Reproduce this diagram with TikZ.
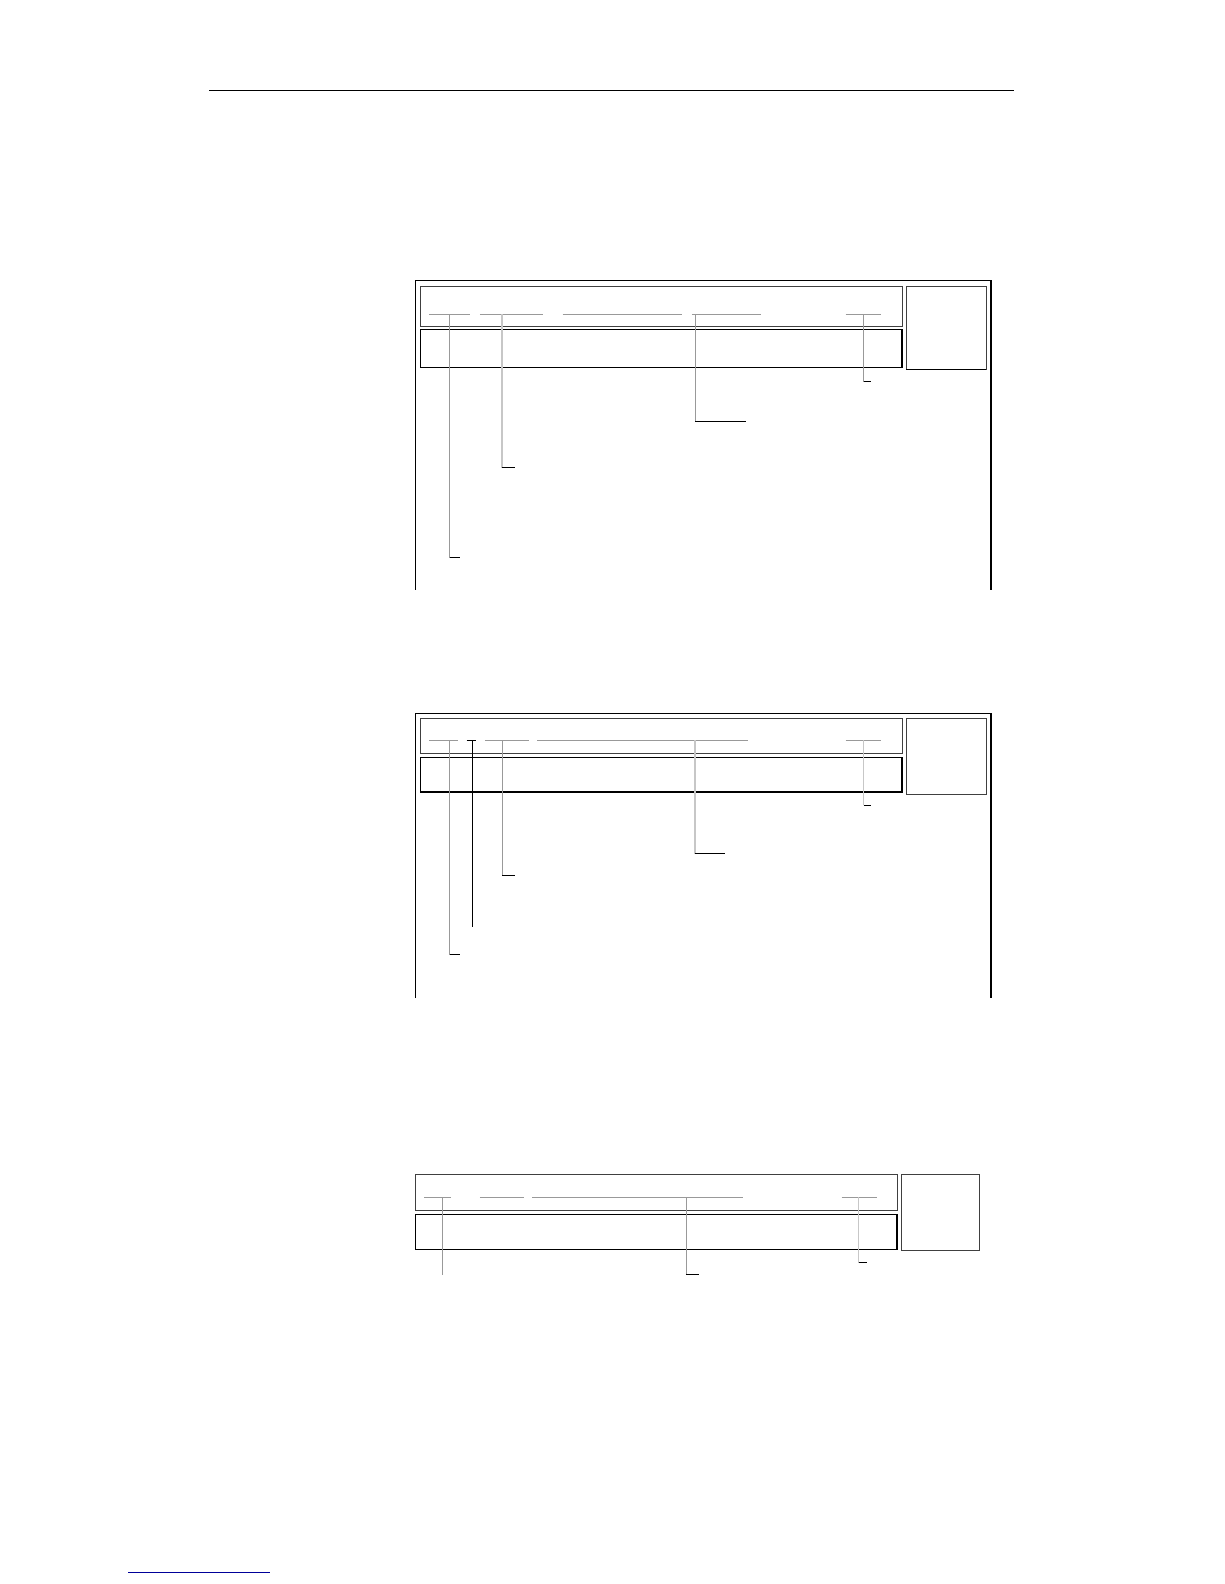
\documentclass[tikz,border=0pt]{standalone}
\begin{document}
\begin{tikzpicture}[x=1.0099pt,y=-1.0099pt,
  frame/.style={black,line width=1.1pt},
  boxa/.style={draw=black!75,line width=0.9pt},
  boxb/.style={draw=black,line width=1.3pt},
  lead/.style={black!40,line width=0.8pt},
  leadl/.style={black!22,line width=1.2pt},
  leadd/.style={black,line width=0.9pt},
  tick/.style={black,line width=1pt}]
\useasboundingbox[fill=white] (0,0) rectangle (1212,1568);
% header rule
\draw[black,line width=1pt] (207,90) -- (1004,90);
% footer rule
\draw[blue!60!black,line width=1pt] (127,1557) -- (267,1557);

% ---------- panel 1 ----------
\draw[frame] (411,584) -- (411,278) -- (981,278) -- (981,584);
\draw[boxa] (416,284) rectangle (893,323);
\draw[boxb] (416,326) rectangle (893,364);
\draw[boxa] (897,284) rectangle (976,366);
\draw[boxb] (897,366) -- (976,366);
\foreach \a/\b in {425/465,475/538,557/675,685/753,837/872}
  \draw[lead] (\a,311) -- (\b,311);
\coordinate (p1a) at (445,552); \draw[lead] (445,311) -- (p1a); \draw[tick] (p1a) -- ++(10,0);
\coordinate (p1b) at (497,463); \draw[leadl] (497,311) -- (p1b); \draw[tick] (p1b) -- ++(13,0);
\coordinate (p1c) at (688,417); \draw[lead] (688,311) -- (p1c); \draw[tick] (p1c) -- ++(50,0);
\coordinate (p1d) at (855,378); \draw[lead] (855,311) -- (p1d); \draw[tick] (p1d) -- ++(7,0);

% ---------- panel 2 ----------
\draw[frame] (411,988) -- (411,706) -- (981,706) -- (981,988);
\draw[boxa] (416,711) rectangle (893,746);
\draw[boxb] (416,750) rectangle (893,784);
\draw[boxa] (897,711) rectangle (976,786);
\foreach \a/\b in {425/453,480/524,532/740,837/872}
  \draw[lead] (\a,733) -- (\b,733);
\draw[tick] (462,733) -- (471,733);
\coordinate (p2a) at (445,945); \draw[lead] (445,733) -- (p2a); \draw[tick] (p2a) -- ++(10,0);
\coordinate (p2e) at (468,918); \draw[leadd] (468,733) -- (p2e);
\coordinate (p2b) at (497,867); \draw[lead] (497,733) -- (p2b); \draw[tick] (p2b) -- ++(13,0);
\coordinate (p2c) at (688,845); \draw[leadl] (688,733) -- (p2c); \draw[tick] (p2c) -- ++(30,0);
\coordinate (p2d) at (855,797); \draw[leadl] (855,733) -- (p2d); \draw[tick] (p2d) -- ++(7,0);

% ---------- panel 3 ----------
\draw[boxa] (411,1163) rectangle (888,1198);
\draw[boxb] (411,1202) rectangle (888,1237);
\draw[boxa] (892,1163) rectangle (970,1238);
\foreach \a/\b in {420/446,475/519,527/735,833/868}
  \draw[lead] (\a,1185) -- (\b,1185);
\coordinate (p3a) at (438,1262); \draw[lead] (438,1185) -- (p3a);
\coordinate (p3c) at (679,1262); \draw[lead] (679,1185) -- (p3c); \draw[tick] (p3c) -- ++(13,0);
\coordinate (p3d) at (850,1250); \draw[leadl] (850,1185) -- (p3d); \draw[tick] (p3d) -- ++(8,0);
\end{tikzpicture}
\end{document}
